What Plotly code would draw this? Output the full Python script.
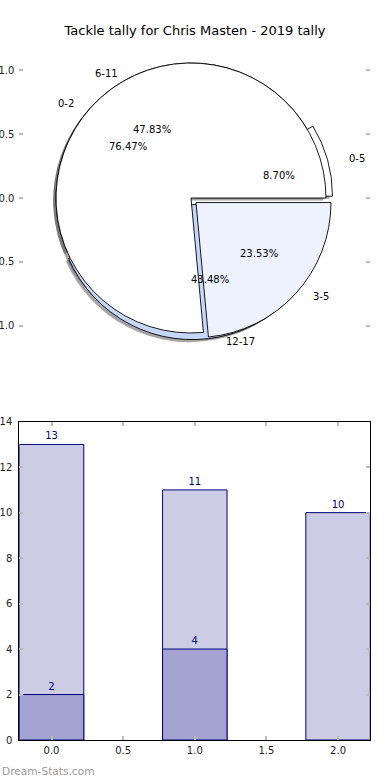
import numpy as np
import plotly.graph_objects as go

W, H = 390, 780
FONT = "DejaVu Sans"
TITLE = "Tackle tally for Chris Masten - 2019 tally"

# ---- data ----
pie1_labels = ["0-2", "3-5"]
pie1_values = [13, 4]
pie1_pull = [0.0, 0.05]
pie1_colors = ["#ffffff", "#eef2fe"]

pie2_labels = ["0-5", "6-11", "12-17"]
pie2_values = [2, 11, 10]
pie2_pull = [0.05, 0.0, 0.05]
pie2_colors = ["#ffffff", "#ffffff", "#c6d7f9"]

bar_x = [0, 1, 2]
bar_light = [13, 11, 10]
bar_dark_x = [0, 1]
bar_dark = [2, 4]

pie_yticks = [-1.0, -0.5, 0.0, 0.5, 1.0]
pie_yticktext = ["-1.0", "-0.5", "0.0", "0.5", "1.0"]
bar_xticks = [0.0, 0.5, 1.0, 1.5, 2.0]
bar_xticktext = ["0.0", "0.5", "1.0", "1.5", "2.0"]
bar_yticks = [0, 2, 4, 6, 8, 10, 12, 14]

# ---- geometry (pixels) ----
CX, CY, R = 191.0, 198.0, 135.0     # pie centre / radius
SX, SY = 141.0, 127.7               # px per data unit in the pie axes
AX_L, AX_R = 19.3, 370.3
PIE_T, PIE_B = 38.0, 358.0
BAR_T, BAR_B = 421.7, 740.0


def pie_domain(pulls, dx=0.0, dy=0.0):
    half = R * (1 + max(pulls))
    cx, cy = CX + dx, CY + dy
    return dict(x=[(cx - half) / W, (cx + half) / W],
                y=[1 - (cy + half) / H, 1 - (cy - half) / H])


def pie_trace(labels, values, pulls, colors, dom, line=True, name=""):
    # matplotlib style: first wedge starts at 3 o'clock, going counter-clockwise.
    # plotly (counterclockwise) puts the first slice clockwise of `rotation`,
    # so shift the rotation by the first slice's angle.
    rot = 90.0 - 360.0 * values[0] / float(sum(values))
    return go.Pie(labels=labels, values=values, pull=pulls, sort=False,
                  direction="counterclockwise", rotation=rot,
                  marker=dict(colors=colors,
                              line=dict(color="black" if line else "rgba(0,0,0,0)",
                                        width=0.9 if line else 0)),
                  textinfo="none", hoverinfo="label+percent", domain=dom,
                  showlegend=False, name=name, automargin=False)


SHADOW = "rgba(77,77,77,0.5)"
sdx, sdy = -0.02 * SX, 0.02 * SY

fig = go.Figure()
fig.add_trace(pie_trace(pie2_labels, pie2_values, pie2_pull, [SHADOW] * 3,
                        pie_domain(pie2_pull, sdx, sdy), line=False, name="s2"))
fig.add_trace(pie_trace(pie1_labels, pie1_values, pie1_pull, [SHADOW] * 2,
                        pie_domain(pie1_pull, sdx, sdy), line=False, name="s1"))
fig.add_trace(pie_trace(pie2_labels, pie2_values, pie2_pull, pie2_colors,
                        pie_domain(pie2_pull), name="pie2"))
fig.add_trace(pie_trace(pie1_labels, pie1_values, pie1_pull, pie1_colors,
                        pie_domain(pie1_pull), name="pie1"))

# invisible scatter to anchor the pie axes
fig.add_trace(go.Scatter(x=[0], y=[0], mode="markers", marker=dict(opacity=0),
                         hoverinfo="skip", showlegend=False, xaxis="x", yaxis="y"))

# ---- pie texts (matplotlib style: pct at 0.6, labels at 1.1) ----
annotations = []
for labels, values, pulls in [(pie2_labels, pie2_values, pie2_pull),
                              (pie1_labels, pie1_values, pie1_pull)]:
    tot = float(sum(values))
    start = 0.0
    for lab, v, p in zip(labels, values, pulls):
        frac = v / tot
        mid = np.deg2rad(360.0 * (start + frac / 2))
        c, s = np.cos(mid), np.sin(mid)
        annotations.append(dict(x=(p + 0.6) * c, y=(p + 0.6) * s, xref="x", yref="y",
                                text="%.2f%%" % (100 * frac), showarrow=False,
                                xanchor="center", yanchor="middle",
                                font=dict(family=FONT, size=10, color="black")))
        annotations.append(dict(x=(p + 1.1) * c, y=(p + 1.1) * s, xref="x", yref="y",
                                text=lab, showarrow=False,
                                xanchor="left" if c > 0 else "right", yanchor="middle",
                                font=dict(family=FONT, size=10, color="black")))
        start += frac

# ---- bars ----
fig.add_trace(go.Bar(x=bar_x, y=bar_light, width=0.45, xaxis="x2", yaxis="y2",
                     marker=dict(color="#ccccE5", line=dict(color="navy", width=1)),
                     text=[str(v) for v in bar_light], textposition="outside",
                     textfont=dict(family=FONT, size=10, color="navy"),
                     cliponaxis=False, showlegend=False))
fig.add_trace(go.Bar(x=bar_dark_x, y=bar_dark, width=0.45, xaxis="x2", yaxis="y2",
                     marker=dict(color="#a3a3d1", line=dict(color="navy", width=1)),
                     text=[str(v) for v in bar_dark], textposition="outside",
                     textfont=dict(family=FONT, size=10, color="navy"),
                     cliponaxis=False, showlegend=False))

annotations.append(dict(x=0, y=1 - 771 / H, xref="paper", yref="paper",
                        text="Dream-Stats.com", showarrow=False,
                        xanchor="left", yanchor="middle",
                        font=dict(family=FONT, size=10.6, color="#999999")))

tick_common = dict(ticks="inside", ticklen=4, tickwidth=1.5, tickcolor="#bbbbbb",
                   showgrid=False, zeroline=False, automargin=False,
                   tickfont=dict(family=FONT, size=10, color="#222222"))

fig.update_layout(
    width=W, height=H, margin=dict(l=0, r=0, t=0, b=0, autoexpand=False),
    paper_bgcolor="white", plot_bgcolor="rgba(0,0,0,0)",
    barmode="overlay", showlegend=False,
    font=dict(family=FONT, color="black"),
    title=dict(text=TITLE, x=0.5, xanchor="center", y=1 - 30 / H, yanchor="middle",
               font=dict(family=FONT, size=13, color="black")),
    xaxis=dict(domain=[AX_L / W, AX_R / W],
               range=[(AX_L - CX) / SX, (AX_R - CX) / SX],
               visible=False, anchor="y"),
    yaxis=dict(domain=[1 - PIE_B / H, 1 - PIE_T / H],
               range=[-(PIE_B - CY) / SY, (CY - PIE_T) / SY],
               tickvals=pie_yticks, ticktext=pie_yticktext,
               showline=False, mirror="ticks", anchor="x",
               ticklabelstandoff=4, **tick_common),
    xaxis2=dict(domain=[AX_L / W, AX_R / W], range=[-0.225, 2.225],
                tickvals=bar_xticks, ticktext=bar_xticktext,
                showline=True, linecolor="black", linewidth=1, mirror="allticks",
                anchor="y2", ticklabelstandoff=1, **tick_common),
    yaxis2=dict(domain=[1 - BAR_B / H, 1 - BAR_T / H], range=[0, 14],
                tickvals=bar_yticks,
                showline=True, linecolor="black", linewidth=1, mirror="allticks",
                anchor="x2", ticklabelstandoff=4, **tick_common),
    annotations=annotations,
)

fig.write_html("out.html")
